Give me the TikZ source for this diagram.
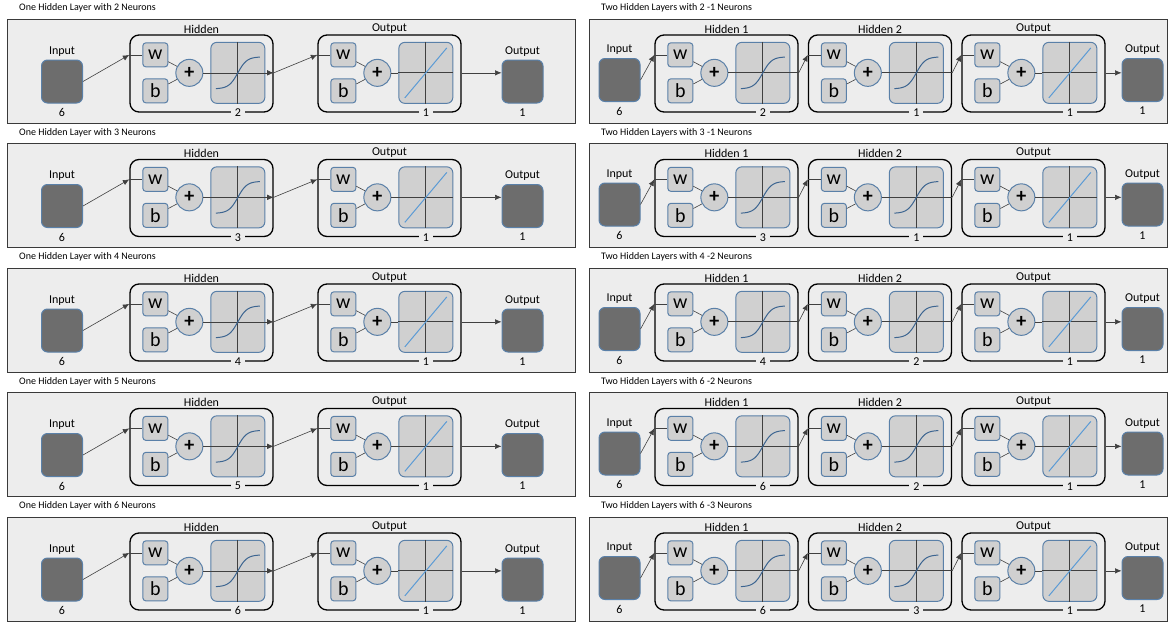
\documentclass[tikz,border=0pt]{standalone}
\usepackage{fontspec}
\setmainfont{Carlito}
\usepackage{tikz}
\usetikzlibrary{shapes.geometric, arrows.meta}
\usetikzlibrary{positioning, calc}

\definecolor{panelbg}{HTML}{EDEDED}
\definecolor{frameline}{HTML}{3A3A3A}
\definecolor{unitfill}{HTML}{D0D0D0}
\definecolor{unitline}{HTML}{5A80A8}
\definecolor{datafill}{HTML}{6D6D6D}
\definecolor{sigblue}{HTML}{3D6591}
\definecolor{linblue}{HTML}{5B9BD5}

\tikzstyle{panel} = [draw=frameline, fill=panelbg, line width=1pt, rectangle,
    minimum width=568pt, minimum height=104pt, inner sep=0pt]
\tikzstyle{panelwide} = [panel, minimum width=578pt]
\tikzstyle{paneltitle} = [font=\fontsize{10}{12}\selectfont, anchor=west, inner sep=0pt]
\tikzstyle{nnlayer} = [draw=black, line width=1.3pt, rounded corners=9pt, rectangle,
    minimum width=143pt, minimum height=77pt, inner sep=0pt]
\tikzstyle{lbl} = [font=\fontsize{12}{14}\selectfont, inner sep=1pt]
\tikzstyle{unit} = [draw=unitline, fill=unitfill, line width=1pt, rounded corners=3pt,
    rectangle, minimum width=25pt, minimum height=24pt, inner sep=0pt,
    font=\fontsize{20}{20}\selectfont]
\tikzstyle{sum} = [draw=unitline, fill=unitfill, line width=1pt, circle,
    minimum size=27pt, inner sep=0pt, font=\fontsize{20}{20}\selectfont\bfseries]
\tikzstyle{tf} = [draw=unitline, fill=unitfill, line width=1pt, rounded corners=6pt,
    rectangle, minimum width=54pt, minimum height=61pt, inner sep=0pt]
\tikzstyle{data} = [draw=unitline, fill=datafill, line width=1pt, rounded corners=6pt,
    rectangle, minimum width=41pt, minimum height=43pt, inner sep=0pt]
\tikzstyle{sizelbl} = [lbl, fill=panelbg, inner xsep=4pt, inner ysep=0pt]
\tikzstyle{wire} = [draw=black!75, line width=0.6pt]
\tikzstyle{axis} = [draw=black!75, line width=0.8pt]
\tikzstyle{arrow} = [wire, -{Latex[length=6.5pt, width=5.5pt]}]
\tikzstyle{sig} = [draw=sigblue, line width=1pt]
\tikzstyle{lin} = [draw=linblue, line width=1pt]

% one layer: name, placement, label, size
\newcommand{\nnunit}[4]{%
  \node[nnlayer, #2] (#1) {};
  \node[lbl, above=0pt of #1] (#1-lbl) {#3};
  \node[unit, below right=8pt and 13pt of #1.north west] (#1-w) {w};
  \node[unit, below=11pt of #1-w] (#1-b) {b};
  \coordinate (#1-m) at ($(#1-w.east)!0.5!(#1-b.east)$);
  \node[sum, right=7pt of #1-m] (#1-s) {+};
  \node[tf, right=7pt of #1-s] (#1-f) {};
  \node[sizelbl] (#1-n) at (#1-f |- #1.south) {#4};
  \draw[wire] (#1.west |- #1-w) -- (#1-w);
  \draw[wire] (#1-w) -- (#1-s);
  \draw[wire] (#1-b) -- (#1-s);
  \draw[axis] (#1-f.north) -- (#1-f.south);
}
% hidden layer (tansig), last arg: style of the through line
\newcommand{\hidunit}[5]{%
  \nnunit{#1}{#2}{#3}{#4}
  \draw[axis, #5] (#1-s) -- (#1.east |- #1-s);
  \draw[sig, shift={(#1-f)}] plot[domain=-22:22, samples=30, smooth]
    (\x, {-16*tanh(\x/9)});
}
% output layer (purelin)
\newcommand{\outunit}[4]{%
  \nnunit{#1}{#2}{#3}{#4}
  \draw[wire] (#1-s) -- (#1-f);
  \draw[axis] (#1-f.west) -- (#1-f.east);
  \draw[lin, shift={(#1-f)}] (-21,25) -- (21,-25);
}
% left column
\newcommand{\onepanel}[3]{%
  \node[panel] (#1) at (291, #2+52) {};
  \node[paneltitle] (#1-t) at (19, #2-11) {One Hidden Layer with #3 Neurons};
  \node[data] (#1-in) at (62, #2+62.5) {};
  \node[lbl, above=2pt of #1-in] (#1-inl) {Input};
  \node[lbl, below=4pt of #1-in] (#1-inn) {6};
  \hidunit{#1h}{at={(201.5,#2+54.5)}}{Hidden}{#3}{arrow}
  \outunit{#1o}{right of=#1h, node distance=188pt}{Output}{1}
  \node[data] (#1-out) at (522.5, #2+62.5) {};
  \node[lbl, above=2pt of #1-out] (#1-outl) {Output};
  \node[lbl, below=4pt of #1-out] (#1-outn) {1};
  \draw[arrow] (#1-in.east) -- (#1h.west |- #1h-w);
  \draw[arrow] (#1h.east |- #1h-s) -- (#1o.west |- #1o-w);
  \draw[arrow] (#1o.east |- #1o-s) -- (#1-out.west |- #1o-s);
}
% right column
\newcommand{\twopanel}[4]{%
  \node[panelwide] (#1) at (878, #2+52) {};
  \node[paneltitle] (#1-t) at (601, #2-11) {Two Hidden Layers with #3 -#4 Neurons};
  \node[data] (#1-in) at (619.5, #2+61) {};
  \node[lbl, above=2pt of #1-in] (#1-inl) {Input};
  \node[lbl, below=4pt of #1-in] (#1-inn) {6};
  \hidunit{#1a}{at={(726.5,#2+54.5)}}{Hidden 1}{#3}{axis}
  \hidunit{#1b}{right of=#1a, node distance=153.5pt}{Hidden 2}{#4}{axis}
  \outunit{#1o}{right of=#1b, node distance=153.5pt}{Output}{1}
  \node[data] (#1-out) at (1142.5, #2+61) {};
  \node[lbl, above=2pt of #1-out] (#1-outl) {Output};
  \node[lbl, below=4pt of #1-out] (#1-outn) {1};
  \draw[arrow] (#1-in.east) -- (#1a.west |- #1a-w);
  \draw[arrow] (#1a.east |- #1a-s) -- (#1b.west |- #1b-w);
  \draw[arrow] (#1b.east |- #1b-s) -- (#1o.west |- #1o-w);
  \draw[arrow] (#1o.east |- #1o-s) -- (#1-out.west |- #1o-s);
}

\begin{document}
\begin{tikzpicture}[x=1pt, y=-1pt]
    \useasboundingbox (0,0) rectangle (1170,624);
    \foreach \k/\n/\na/\nb in {0/2/2/1, 1/3/3/1, 2/4/4/2, 3/5/6/2, 4/6/6/3} {
        \pgfmathsetmacro{\T}{19+124.5*\k}
        \onepanel{L\k}{\T}{\n}
        \twopanel{R\k}{\T}{\na}{\nb}
    }
\end{tikzpicture}
\end{document}
